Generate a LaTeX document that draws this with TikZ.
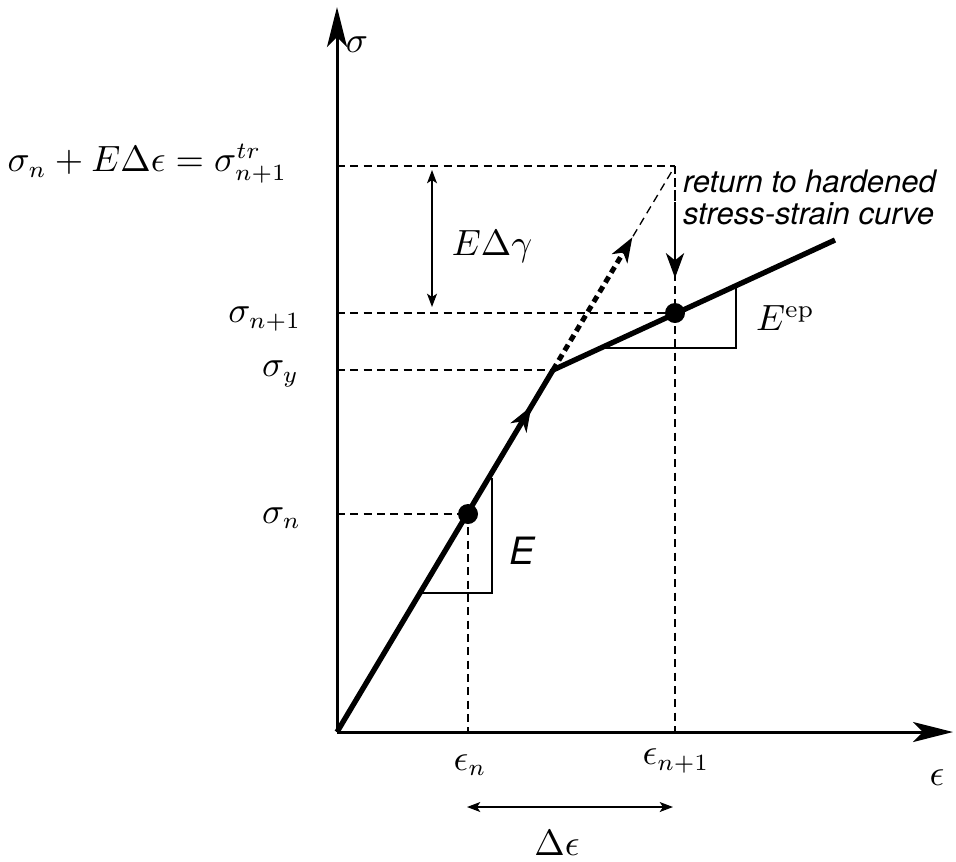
\documentclass[tikz,border=0pt]{standalone}
\usepackage{fontspec}
\newfontfamily\heros{TeX Gyre Heros}
\usetikzlibrary{arrows.meta,decorations.markings,calc}
\begin{document}
\begin{tikzpicture}[x=0.3pt,y=-0.3pt,
  font=\fontsize{10.5}{12.5}\selectfont,
  axis/.style={line width=0.9pt,-{Stealth[length=12pt,width=6pt,inset=3pt]}},
  curve/.style={line width=1.6pt},
  guide/.style={line width=0.4pt,dash pattern=on 2.4pt off 1.6pt},
  slope/.style={line width=0.4pt},
  dim/.style={line width=0.4pt,{Stealth[length=4pt,width=3pt,inset=1pt]}-{Stealth[length=4pt,width=3pt,inset=1pt]}},
  tipmid/.style={-{Stealth[length=7.5pt,width=5.5pt,inset=2.2pt]}},
  midarrow/.style={decoration={markings,mark=at position #1 with {\arrow{Stealth[length=7.5pt,width=5.5pt,inset=2.2pt]}}},postaction=decorate},
  dot/.style={circle,fill=black,inner sep=0pt,minimum size=6pt},
  lab/.style={inner sep=1pt}]
\useasboundingbox (0,0) rectangle (956,861);
% key points
\coordinate (O) at (337,732);
\coordinate (Ytop) at (337,7);
\coordinate (Xend) at (953,732);
\coordinate (Y) at (553,370);
\coordinate (H) at (835,240);
\coordinate (T) at (675,166);
\coordinate (Ttr) at (337,166);
\coordinate (Snp) at (337,313);
\coordinate (Sy) at (337,370);
\coordinate (Sn) at (337,514);
\coordinate (En) at (468,732);
\coordinate (Enp) at (675,732);
% guide lines
\draw[guide] (Ttr) -- (T);
\draw[guide] (Snp) -- (675,313);
\draw[guide] (Sy) -- (Y);
\draw[guide] (Sn) -- (468,514);
\draw[guide] (468,514) -- (En);
\draw[guide] (T) -- (Enp);
% return arrow on the vertical
\draw[line width=0.6pt,dash pattern=on 2.4pt off 1.2pt] (T) -- (675,262);
\draw[tipmid,line width=0.4pt] (675,250) -- (675,278);
% trial line
\coordinate (Tm) at ($(Y)!0.6!(T)$);
\draw[line width=1.5pt,dash pattern=on 2pt off 1.4pt] (Y) -- (Tm);
\draw[guide] (Tm) -- (T);
\draw[tipmid,line width=0.4pt] (Tm) -- ($(Y)!0.65!(T)$);
% axes
\draw[axis] (O) -- (Ytop);
\draw[axis] (O) -- (Xend);
% curve
\draw[curve,midarrow=0.9] (O) -- (Y);
\draw[curve] (Y) -- (H);
% slope triangles
\draw[slope] (422,593) -- (492,593) -- (492,478);
\draw[slope] (603,348) -- (736,348) -- (736,287);
% dots
\node[dot] (Pn) at (468,514) {};
\node[dot] (Pnp) at (675,313) {};
% dimension arrows
\draw[dim] (432,170) -- (432,307);
\draw[dim] (467,807) -- (673,807);
% labels
\node[lab] (ls) at (357,45) {$\sigma$};
\node[lab] (le) at (937,778) {$\epsilon$};
\node[lab,anchor=east] (ltr) at (291,164) {$\sigma_n + E\Delta\epsilon = \sigma^{tr}_{n+1}$};
\node[lab,anchor=east] (lsnp) at (305,319) {$\sigma_{n+1}$};
\node[lab,anchor=east] (lsy) at (303,374) {$\sigma_y$};
\node[lab,anchor=east] (lsn) at (305,518) {$\sigma_n$};
\node[lab] (len) at (470,765) {$\epsilon_n$};
\node[lab] (lenp) at (676,761) {$\epsilon_{n+1}$};
\node[lab] (lde) at (557,843) {$\Delta\epsilon$};
\node[lab] (lgam) at (492,247) {$E\Delta\gamma$};
\node[lab,anchor=west] (lep) at (752,318) {$E^{\mathrm{ep}}$};
\node[lab] (lE) at (522,551) {\fontsize{11.3}{13}\heros\itshape E};
\node[lab,anchor=north west,align=left,font=\fontsize{9.3}{9.6}\heros\itshape] (lret) at (679,166) {return to hardened\\stress-strain curve};
\end{tikzpicture}
\end{document}
